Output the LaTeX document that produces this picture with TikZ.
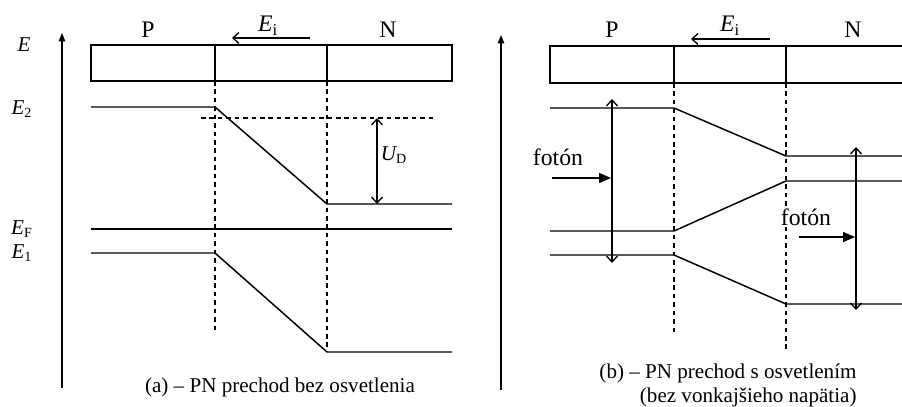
\documentclass[tikz,border=0pt]{standalone}
\usepackage{fontspec}
\setmainfont{Liberation Serif}
\usepackage{tikz}
\usetikzlibrary{arrows.meta}

\begin{document}
\begin{tikzpicture}[x=0.02cm,y=0.02cm,font=\fontsize{12}{13.6}\selectfont,
  big/.style={font=\fontsize{13.5}{15}\selectfont},
  level/.style={line width=0.85pt},
  guide/.style={line width=0.75pt,dash pattern=on 2.6pt off 2.2pt},
  axisarrow/.style={line width=0.85pt,-{Triangle[length=1.7mm,width=1.3mm]}},
  fieldarrow/.style={line width=0.75pt,-{Straight Barb[length=1.2mm,width=2.2mm]}},
  gaparrow/.style={line width=0.75pt,{Straight Barb[length=1.2mm,width=2.2mm]}-{Straight Barb[length=1.2mm,width=2.2mm]}},
  photonarrow/.style={line width=0.85pt,-{Triangle[length=2.4mm,width=2mm]}}]
\useasboundingbox (0,0) rectangle (902,406);
% (a)
\draw[axisarrow] (62,18) -- (62,373);
\node (Ea) at (24,361) {\itshape E};
\node (Etwoa) at (22,297) {{\itshape E}\textsubscript{2}};
\node (EFa) at (22,177) {{\itshape E}\textsubscript{F}};
\node (Eonea) at (22,153) {{\itshape E}\textsubscript{1}};
\draw[line width=1.1pt] (91,361) rectangle (452,325);
\draw[line width=0.85pt] (215,361) -- (215,325);
\draw[line width=0.85pt] (327,361) -- (327,325);
\node[big] (Pa) at (148,376) {P};
\node[big] (Na) at (388,376) {N};
\coordinate (Eistarta) at (310,368);
\coordinate (Eienda) at (232,368);
\draw[fieldarrow] (Eistarta) -- (Eienda);
\node[big] (Eia) at (268,380) {{\itshape E}\textsubscript{i}};
\draw[level] (91,299) -- (215,299) -- (327,202) -- (452,202);
\draw[level] (91,177) -- (452,177);
\draw[level] (91,153) -- (215,153) -- (327,54) -- (452,54);
\draw[guide] (201,288) -- (437,288);
\draw[guide] (215,325) -- (215,72);
\draw[guide] (327,325) -- (327,54);
\coordinate (UDtop) at (377,288);
\coordinate (UDbot) at (377,202);
\draw[gaparrow] (UDtop) -- (UDbot);
\node (UD) at (394,251) {{\itshape U}\textsubscript{D}};
\node (capa) at (280,19) {(a) -- PN prechod bez osvetlenia};
% (b)
\draw[axisarrow] (501,16) -- (501,371);
\draw[line width=1.1pt] (902,360) -- (550,360) -- (550,323) -- (902,323);
\draw[line width=0.85pt] (674,360) -- (674,323);
\draw[line width=0.85pt] (786,360) -- (786,323);
\node[big] (Pb) at (612,376) {P};
\node[big] (Nb) at (853,376) {N};
\coordinate (Eistartb) at (770,367);
\coordinate (Eiendb) at (691,367);
\draw[fieldarrow] (Eistartb) -- (Eiendb);
\node[big] (Eib) at (730,380) {{\itshape E}\textsubscript{i}};
\draw[level] (550,298) -- (674,298) -- (786,250) -- (902,250);
\draw[level] (550,175) -- (674,175) -- (786,225) -- (902,225);
\draw[level] (550,151) -- (674,151) -- (786,102) -- (902,102);
\draw[guide] (674,323) -- (674,72);
\draw[guide] (786,323) -- (786,54);
\coordinate (phPtop) at (612,307);
\coordinate (phPbot) at (612,143);
\draw[gaparrow] (phPbot) -- (phPtop);
\coordinate (phNtop) at (856,259);
\coordinate (phNbot) at (856,96);
\draw[gaparrow] (phNbot) -- (phNtop);
\node[big] (fotonP) at (558,249) {fotón};
\coordinate (fotonPstart) at (552,228);
\coordinate (fotonPend) at (611,228);
\draw[photonarrow] (fotonPstart) -- (fotonPend);
\node[big,fill=white,inner sep=1pt] (fotonN) at (806,189) {fotón};
\coordinate (fotonNstart) at (799,169);
\coordinate (fotonNend) at (855,169);
\draw[photonarrow] (fotonNstart) -- (fotonNend);
\node[align=right] (capb) at (728,21) {(b) -- PN prechod s osvetlením\\(bez vonkajšieho napätia)};
\end{tikzpicture}
\end{document}
